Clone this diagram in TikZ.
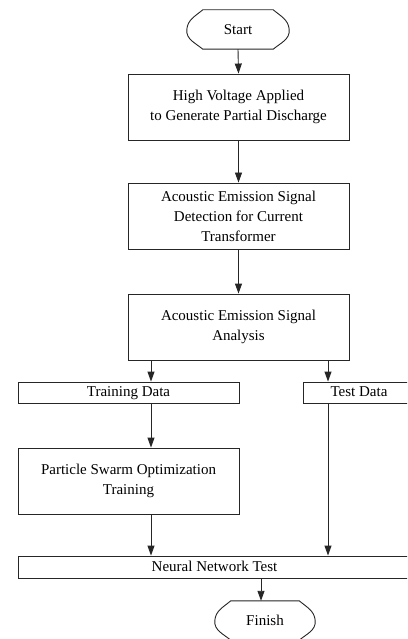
\documentclass[tikz,border=0pt]{standalone}
\usepackage{fontspec}
\setmainfont{Liberation Serif}
\usetikzlibrary{arrows.meta}
\tikzset{
  x=1pt, y=-1pt,
  line/.style={draw=black!85, line width=0.9pt},
  arr/.style={line, -{Triangle[length=10pt,width=7pt]}},
  box/.style={line, rectangle, inner sep=0pt, align=center,
    font=\fontsize{15}{20}\selectfont},
  onebox/.style={box, text height=10.5pt, text depth=2.5pt},
  term/.style={inner sep=0pt, font=\fontsize{15}{20}\selectfont,
    text height=12pt, text depth=2pt},
}
\newcommand{\termshape}[1]{%
  \draw[line] ([xshift=16pt]#1.north west) -- ([xshift=-16pt]#1.north east)
    to[out=-40,in=95] (#1.east) to[out=-85,in=40] ([xshift=-16pt]#1.south east)
    -- ([xshift=16pt]#1.south west)
    to[out=140,in=-95] (#1.west) to[out=85,in=-140] cycle;}
\begin{document}
\begin{tikzpicture}
\path[use as bounding box, clip] (0,0) rectangle (407,639);
\fill[white] (0,0) rectangle (407,639);

\node[term, minimum width=102pt, minimum height=39pt] (start) at (238,29.5) {Start};
\termshape{start}

\node[box, minimum width=221pt, minimum height=66pt] (b1) at (238.5,107)
  {High Voltage Applied\\to Generate Partial Discharge};
\node[box, minimum width=221pt, minimum height=66pt] (b2) at (238.5,216)
  {Acoustic Emission Signal\\Detection for Current\\Transformer};
\node[box, minimum width=221pt, minimum height=66pt] (b3) at (238.5,327)
  {Acoustic Emission Signal\\Analysis};

\node[onebox, minimum width=221pt, minimum height=21pt] (train) at (128.5,392.5) {Training Data};
\node[onebox, minimum width=112pt, minimum height=21pt] (test) at (359,392.5) {Test Data};

\node[box, minimum width=221pt, minimum height=66pt] (pso) at (128.5,481)
  {Particle Swarm Optimization\\Training};

\node[onebox, minimum width=393pt, minimum height=22pt] (nn) at (214.5,567) {Neural Network Test};

\node[term, minimum width=100pt, minimum height=39pt] (finish) at (265,620.5) {Finish};
\termshape{finish}

\coordinate (cl) at (151,0);
\coordinate (cr) at (328,0);
\coordinate (cf) at (261,0);

\draw[arr] (start.south) -- (b1.north);
\draw[arr] (b1.south) -- (b2.north);
\draw[arr] (b2.south) -- (b3.north);
\draw[arr] (b3.south -| cl) -- (train.north -| cl);
\draw[arr] (b3.south -| cr) -- (test.north -| cr);
\draw[arr] (train.south -| cl) -- (pso.north -| cl);
\draw[arr] (pso.south -| cl) -- (nn.north -| cl);
\draw[arr] (test.south -| cr) -- (nn.north -| cr);
\draw[arr] (nn.south -| cf) -- (finish.north -| cf);
\end{tikzpicture}
\end{document}
